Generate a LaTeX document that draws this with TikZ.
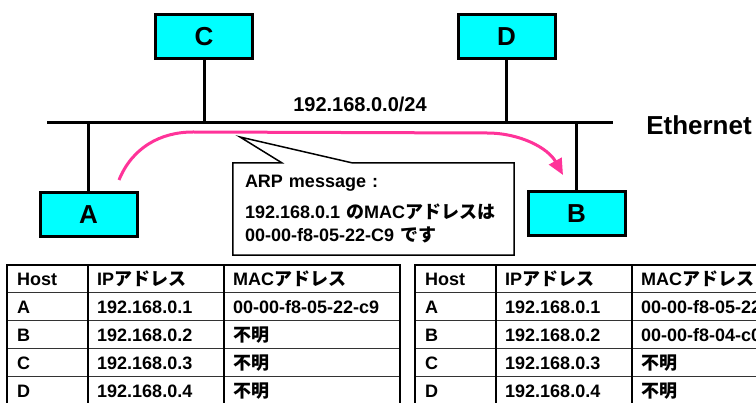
\documentclass[tikz,border=0pt]{standalone}
\usepackage{fontspec}
\setmainfont{Liberation Sans}
\newfontfamily\cjk{Noto Sans CJK JP}
\usepackage{xcolor}
\usetikzlibrary{positioning,arrows.meta,calc}

\definecolor{hostcyan}{RGB}{0,255,255}
\definecolor{arppink}{RGB}{255,51,153}
\newcommand{\jp}[1]{{\cjk\bfseries #1}}

\begin{document}
\begin{tikzpicture}[x=1pt, y=-1pt, >=Stealth,
		host/.style={draw, line width=3pt, fill=hostcyan, minimum width=97pt, minimum height=44pt,
			inner sep=0pt, font=\fontsize{26}{26}\selectfont\bfseries},
		bus/.style={line width=3pt},
		arp/.style={->, draw=arppink, line width=3pt, >={Triangle[length=16pt,width=14pt]}},
		msg/.style={minimum width=281pt, minimum height=92pt, inner xsep=12pt, align=left,
			text width=257pt, font=\fontsize{18}{23}\selectfont\bfseries},
		msgline/.style={draw, line width=1.5pt, fill=white, line join=miter},
		cell/.style={anchor=west, inner sep=0pt, font=\fontsize{18}{18}\selectfont\bfseries},
		tabframe/.style={line width=2.5pt},
		colline/.style={line width=1.5pt},
		rowline/.style={line width=1pt, black!80}]

		\clip (0,0) rectangle (756,403);

		% hosts
		\node[host] (C) at (204,36.5) {C};
		\node[host] (D) at (506.5,36.5) {D};
		\node[host] (A) at (88.5,214.5) {A};
		\node[host] (B) at (576.5,213.5) {B};

		% ethernet segment
		\coordinate (ethL) at (47,123);
		\coordinate (ethR) at (613,123);
		\draw[bus] (ethL) -- (ethR);
		\draw[bus] (C.south) -- (C.south |- ethL);
		\draw[bus] (D.south) -- (D.south |- ethL);
		\draw[bus] (A.north) -- (A.north |- ethL);
		\draw[bus] (B.north) -- (B.north |- ethL);

		\node[font=\fontsize{20}{20}\selectfont\bfseries] (net) at (360,104) {192.168.0.0/24};
		\node[font=\fontsize{26}{26}\selectfont\bfseries] (eth) at (699,125) {Ethernet};

		% ARP reply from A to B
		\coordinate (arpS) at (119,180);
		\coordinate (arpE) at (563,175);
		\draw[arp] (arpS) .. controls (132,148) and (160,132) .. (193,132)
			-- (487,133) .. controls (520,133) and (548,148) .. (arpE);

		% message callout
		\node[msg] (msg) at (373.5,209) {};
		\coordinate (tip) at (240,137);
		\draw[msgline] (msg.north west) -- ($(msg.north west)+(49,0)$) -- (tip)
			-- ($(msg.north west)+(119,0)$) -- (msg.north east) -- (msg.south east)
			-- (msg.south west) -- cycle;
		\node[msg] (msgtxt) at (msg.center) {ARP message :\\[8pt]
			192.168.0.1 \jp{の}MAC\jp{アドレスは}\\
			00-00-f8-05-22-C9 \jp{です}};

		% ARP tables
		\foreach \tx/\tn/\bmac in {7/L/\jp{不明}, 415/R/00-00-f8-04-c0} {
			\foreach \r in {1,...,4}
				\draw[rowline] (\tx,265+28*\r) -- ++(393,0);
			\draw[colline] (\tx+81,265) -- ++(0,140);
			\draw[colline] (\tx+217,265) -- ++(0,140);
			\draw[tabframe] (\tx,265) rectangle ++(393,140);
			\foreach \r/\h/\ip/\mac in {0/Host/{IP\jp{アドレス}}/{MAC\jp{アドレス}},
					1/A/192.168.0.1/00-00-f8-05-22-c9,
					2/B/192.168.0.2/\bmac,
					3/C/192.168.0.3/\jp{不明},
					4/D/192.168.0.4/\jp{不明}} {
				\node[cell] (\tn-\r-h) at (\tx+10,279+28*\r) {\h};
				\node[cell] (\tn-\r-ip) at (\tx+90,279+28*\r) {\ip};
				\node[cell] (\tn-\r-mac) at (\tx+226,279+28*\r) {\mac};
			}
		}
	\end{tikzpicture}
\end{document}
